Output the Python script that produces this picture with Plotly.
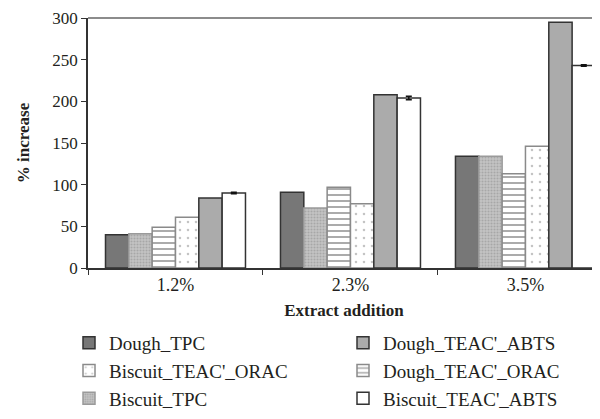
import plotly.graph_objects as go

categories = ["1.2%", "2.3%", "3.5%"]

dough_tpc = [40, 91, 134]
biscuit_tpc = [41, 72, 134]
dough_orac = [49, 97, 113]
biscuit_orac = [61, 77, 146]
dough_abts = [84, 208, 295]
biscuit_abts = [90, 204, 243]
biscuit_abts_err = [1, 2, 1]

FONT = "Liberation Serif"

# (name, values, fill, outline, pattern, legend column, rank in column)
series = [
    ("Dough_TPC", dough_tpc, "#777777", "#333333", None, "legend", 1),
    ("Biscuit_TPC", biscuit_tpc, "#b4b4b4", "#9a9a9a",
     dict(shape=".", fgcolor="#8a8a8a", bgcolor="#c4c4c4", size=3, solidity=0.4),
     "legend", 3),
    ("Dough_TEAC'_ORAC", dough_orac, "white", "#8a8a8a",
     dict(shape="-", fgcolor="#444444", bgcolor="white", size=6, solidity=0.3),
     "legend2", 2),
    ("Biscuit_TEAC'_ORAC", biscuit_orac, "white", "#8a8a8a",
     dict(shape=".", fgcolor="#888888", bgcolor="white", size=8, solidity=0.08),
     "legend", 2),
    ("Dough_TEAC'_ABTS", dough_abts, "#ababab", "#333333", None, "legend2", 1),
    ("Biscuit_TEAC'_ABTS", biscuit_abts, "white", "#333333", None, "legend2", 3),
]

fig = go.Figure()
for name, vals, fill, edge, pat, leg, rank in series:
    marker = dict(color=fill, line=dict(color=edge, width=1.5))
    if pat:
        marker["pattern"] = pat
    kw = {}
    if name == "Biscuit_TEAC'_ABTS":
        kw["error_y"] = dict(type="data", array=biscuit_abts_err,
                             color="#111111", thickness=1.5, width=3)
    fig.add_trace(go.Bar(x=categories, y=vals, name=name, marker=marker,
                         legend=leg, legendrank=rank, **kw))

# top border line at 300
fig.add_shape(type="line", xref="paper", yref="paper", x0=0, x1=1, y0=1, y1=1,
              line=dict(color="#666666", width=1.5))

# the page body has an 8px margin, so the figure is drawn 8px smaller
W, H = 592, 411
PLOT_L, PLOT_T, PLOT_H = 80, 9.5, 251
PLOT_W = W - PLOT_L
PLOT_B = PLOT_T + PLOT_H
leg_y = -(H - PLOT_B) / PLOT_H  # bottom edge of figure, in paper units
leg_style = dict(yanchor="bottom", y=leg_y, xanchor="left",
                 font=dict(size=19), tracegroupgap=0, itemwidth=30,
                 bgcolor="rgba(0,0,0,0)")

fig.update_layout(
    width=W, height=H,
    margin=dict(l=PLOT_L, r=0, t=PLOT_T, b=H - PLOT_B),
    paper_bgcolor="white", plot_bgcolor="white",
    barmode="group", bargap=0.2, bargroupgap=0,
    font=dict(family=FONT, size=18, color="#231f20"),
    showlegend=True,
    legend=dict(x=(61 - PLOT_L) / PLOT_W, **leg_style),
    legend2=dict(x=(335 - PLOT_L) / PLOT_W, **leg_style),
)
fig.update_xaxes(range=[-0.5, 2.426], showline=True, linecolor="#333333",
                 linewidth=1.5, ticks="outside", tickson="boundaries",
                 ticklen=5, tickcolor="#333333", automargin=False,
                 title=dict(text="<b>Extract addition</b>", standoff=10,
                            font=dict(size=17)))
fig.update_yaxes(range=[0, 300], dtick=50, showline=True, linecolor="#333333",
                 linewidth=1.5, ticks="outside", ticklen=5, tickcolor="#333333",
                 showgrid=False, zeroline=False, automargin=False,
                 ticklabeloverflow="allow", tickfont=dict(size=17),
                 title=dict(text="<b>% increase</b>", standoff=18,
                            font=dict(size=17)))

fig.write_html("out.html")
